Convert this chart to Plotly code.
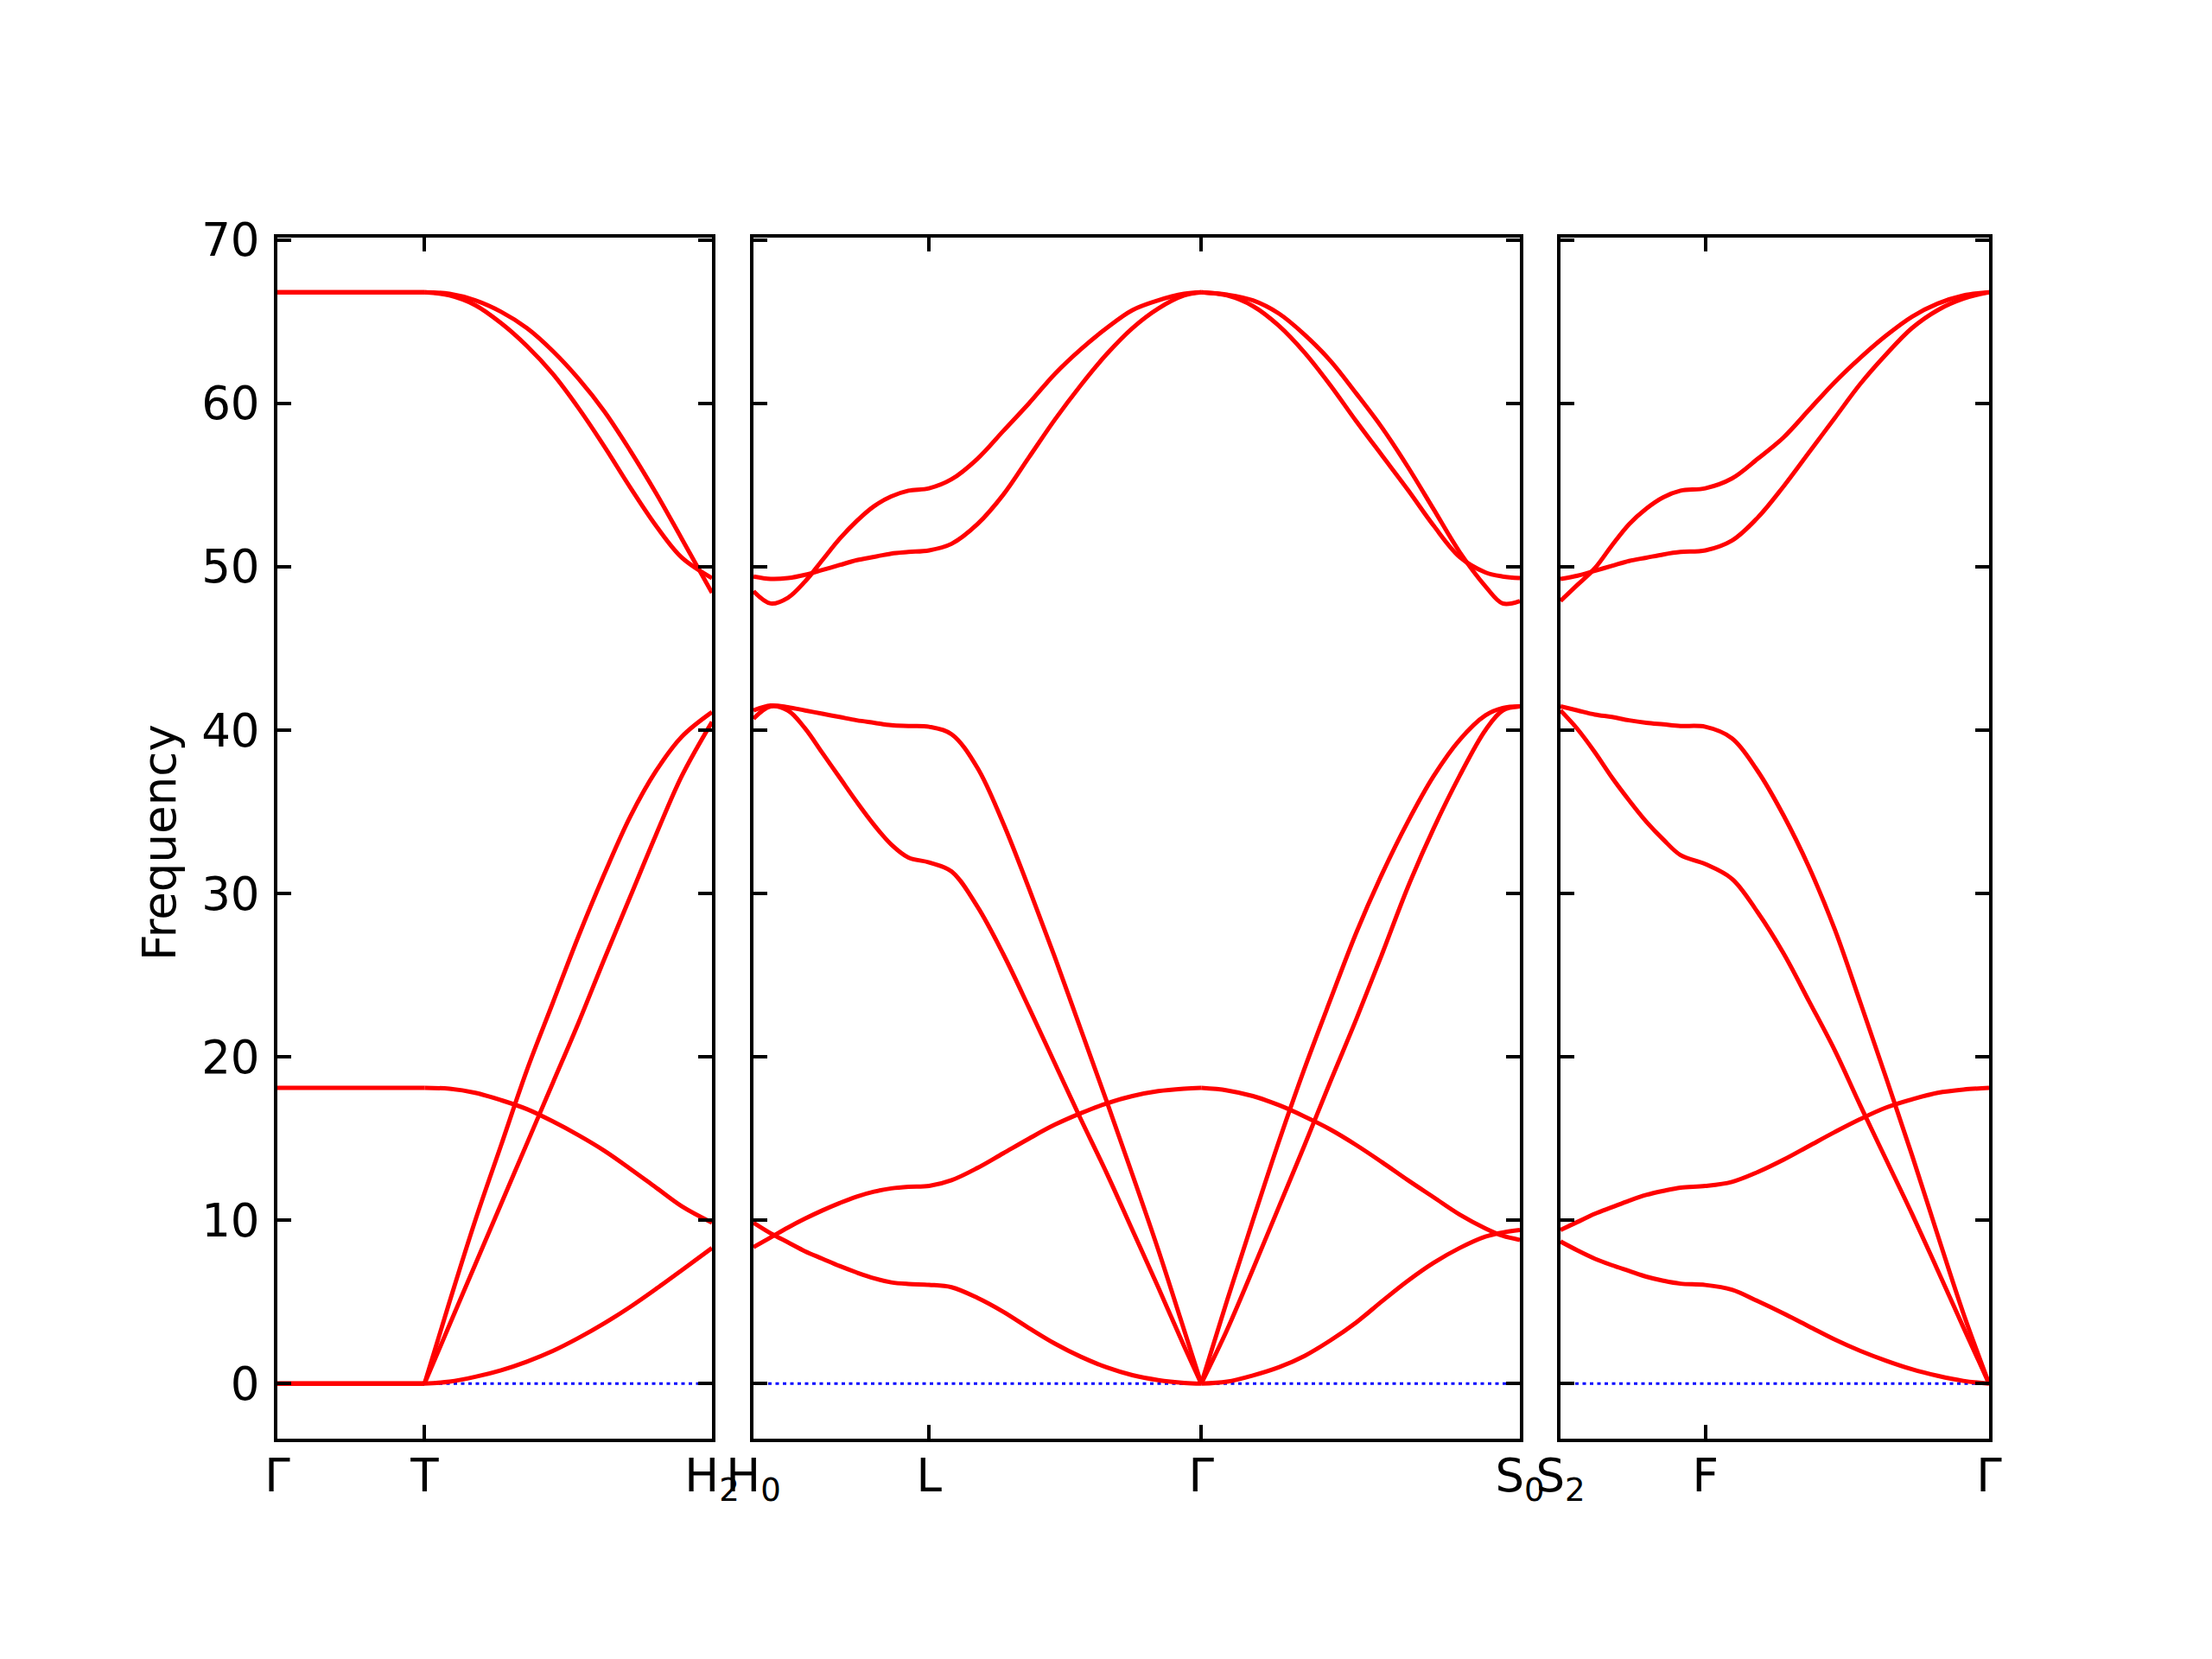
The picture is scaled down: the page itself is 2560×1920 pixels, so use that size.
import plotly.graph_objects as go

# ---------------- Panel 1 : Γ – T – H2 ----------------
P1_TICKS = [0, 171, 505]
P1_LABELS = ["Γ", "T", "H<sub>2</sub>"]

X_G_T = [0, 171]
G_T_BANDS = [[66.8, 66.8], [66.8, 66.8], [18.1, 18.1], [0.0, 0.0], [0.0, 0.0], [0.0, 0.0]]

X_T_H2 = [171, 200, 230, 260, 290, 320, 350, 380, 410, 440, 470, 505]
T_H2_OPT_OUTER = [66.8, 66.7, 66.3, 65.6, 64.6, 63.2, 61.5, 59.5, 57.1, 54.5, 51.7, 48.4]
T_H2_OPT_INNER = [66.8, 66.6, 66.0, 64.9, 63.5, 61.8, 59.7, 57.35, 54.85, 52.5, 50.55, 49.3]
T_H2_MID_A = [0.0, 5.0, 10.0, 14.6, 19.2, 23.3, 27.4, 31.2, 34.7, 37.5, 39.6, 41.1]
T_H2_MID_B = [0.0, 3.6, 7.3, 11.0, 14.7, 18.4, 22.1, 26.0, 29.8, 33.6, 37.2, 40.5]
T_H2_LOW_A = [18.1, 18.05, 17.8, 17.35, 16.8, 16.05, 15.2, 14.25, 13.15, 12.0, 10.85, 9.85]
T_H2_LOW_B = [0.0, 0.12, 0.42, 0.82, 1.35, 2.0, 2.8, 3.7, 4.7, 5.8, 6.95, 8.3]

# ---------------- Panel 2 : H0 – L – Γ – S0 ----------------
P2_TICKS = [0, 204, 520, 890]
P2_LABELS = ["H<sub>0</sub>", "L", "Γ", "S<sub>0</sub>"]

X_H0_L = [0, 20, 40, 60, 80, 100, 120, 140, 160, 180, 204]
H0_L_P = [48.5, 47.75, 48.1, 49.1, 50.4, 51.7, 52.8, 53.7, 54.3, 54.65, 54.8]
H0_L_Q = [49.4, 49.25, 49.3, 49.5, 49.8, 50.1, 50.4, 50.6, 50.8, 50.9, 51.0]
H0_L_R = [40.7, 41.45, 41.2, 40.1, 38.6, 37.1, 35.6, 34.2, 33.0, 32.2, 31.9]
H0_L_S = [41.2, 41.5, 41.4, 41.2, 41.0, 40.8, 40.6, 40.45, 40.3, 40.25, 40.2]
H0_L_U = [8.35, 8.95, 9.55, 10.1, 10.6, 11.05, 11.45, 11.75, 11.95, 12.05, 12.1]
H0_L_V = [9.85, 9.2, 8.65, 8.1, 7.65, 7.2, 6.8, 6.45, 6.2, 6.1, 6.05]

X_L_G = [204, 230, 260, 290, 320, 350, 380, 410, 440, 470, 500, 520]
L_G_P = [54.8, 55.35, 56.6, 58.3, 60.0, 61.8, 63.3, 64.6, 65.7, 66.3, 66.7, 66.8]
L_G_Q = [51.0, 51.4, 52.6, 54.4, 56.7, 59.0, 61.1, 63.0, 64.6, 65.8, 66.6, 66.8]
L_G_R = [31.9, 31.35, 29.2, 26.3, 23.0, 19.6, 16.2, 12.9, 9.4, 5.9, 2.3, 0.0]
L_G_S = [40.2, 39.75, 37.7, 34.3, 30.3, 26.1, 21.7, 17.3, 12.8, 8.2, 3.3, 0.0]
L_G_U = [12.1, 12.45, 13.2, 14.1, 15.0, 15.85, 16.55, 17.15, 17.6, 17.9, 18.05, 18.1]
L_G_V = [6.05, 5.9, 5.25, 4.4, 3.4, 2.45, 1.65, 1.0, 0.52, 0.22, 0.05, 0.0]

X_G_S0 = [520, 550, 580, 610, 640, 670, 700, 730, 760, 790, 820, 850, 870, 890]
G_S0_OUT = [66.8, 66.65, 66.3, 65.5, 64.2, 62.6, 60.6, 58.5, 56.1, 53.5, 50.9, 48.8, 47.75, 47.9]
G_S0_IN = [66.8, 66.6, 65.95, 64.75, 63.1, 61.1, 58.9, 56.8, 54.7, 52.5, 50.6, 49.65, 49.4, 49.3]
G_S0_T1 = [0.0, 5.1, 10.0, 14.8, 19.3, 23.5, 27.6, 31.2, 34.4, 37.2, 39.4, 40.9, 41.35, 41.45]
G_S0_T2 = [0.0, 3.3, 7.0, 10.8, 14.6, 18.5, 22.3, 26.3, 30.4, 34.0, 37.2, 40.0, 41.2, 41.45]
G_S0_U = [18.1, 17.95, 17.6, 17.05, 16.35, 15.55, 14.6, 13.55, 12.45, 11.4, 10.35, 9.5, 9.05, 8.8]
G_S0_V = [0.0, 0.12, 0.5, 1.0, 1.7, 2.65, 3.75, 5.05, 6.3, 7.4, 8.3, 9.0, 9.25, 9.4]

# ---------------- Panel 3 : S2 – F – Γ ----------------
P3_TICKS = [0, 169, 500]
P3_LABELS = ["S<sub>2</sub>", "F", "Γ"]

X_S2_F = [0, 20, 40, 60, 80, 100, 120, 140, 169]
S2_F_P = [47.9, 48.9, 49.9, 51.3, 52.6, 53.55, 54.25, 54.65, 54.8]
S2_F_Q = [49.25, 49.45, 49.75, 50.05, 50.35, 50.55, 50.75, 50.9, 51.0]
S2_F_M1 = [41.45, 41.2, 40.95, 40.8, 40.6, 40.45, 40.35, 40.25, 40.2]
S2_F_M2 = [41.2, 40.05, 38.65, 37.1, 35.7, 34.4, 33.3, 32.35, 31.8]
S2_F_L1 = [9.4, 9.9, 10.4, 10.8, 11.2, 11.55, 11.8, 12.0, 12.1]
S2_F_L2 = [8.7, 8.15, 7.65, 7.25, 6.9, 6.55, 6.3, 6.12, 6.04]

X_F_G = [169, 200, 230, 260, 290, 320, 350, 380, 410, 440, 470, 500]
F_G_P = [54.8, 55.4, 56.6, 57.9, 59.6, 61.3, 62.8, 64.15, 65.3, 66.1, 66.6, 66.8]
F_G_Q = [51.0, 51.6, 53.0, 54.9, 57.0, 59.1, 61.2, 63.0, 64.6, 65.7, 66.4, 66.8]
F_G_M1 = [40.2, 39.5, 37.5, 34.8, 31.6, 27.8, 23.3, 18.7, 14.0, 9.1, 4.3, 0.0]
F_G_M2 = [31.8, 30.9, 28.85, 26.35, 23.4, 20.4, 17.0, 13.7, 10.4, 6.95, 3.45, 0.0]
F_G_L1 = [12.1, 12.35, 12.95, 13.7, 14.55, 15.4, 16.2, 16.9, 17.4, 17.8, 18.0, 18.1]
F_G_L2 = [6.04, 5.75, 5.05, 4.3, 3.5, 2.7, 2.0, 1.4, 0.88, 0.48, 0.17, 0.0]

Y_RANGE = [-3.34, 70.14]
Y_LABEL = "Frequency"


def chain(xa, ya_list, xb, yb_list):
    """Join two consecutive path segments through their shared (smooth) k-point."""
    return [(xa + xb[1:], a + b[1:]) for a, b in zip(ya_list, yb_list)]


fig = go.Figure()

PANELS = [
    ("x", "y", P1_TICKS,
     [(X_G_T, b) for b in G_T_BANDS] +
     [(X_T_H2, b) for b in [T_H2_OPT_OUTER, T_H2_OPT_INNER, T_H2_MID_A,
                            T_H2_MID_B, T_H2_LOW_A, T_H2_LOW_B]]),
    ("x2", "y2", P2_TICKS,
     chain(X_H0_L, [H0_L_P, H0_L_Q, H0_L_R, H0_L_S, H0_L_U, H0_L_V],
           X_L_G, [L_G_P, L_G_Q, L_G_R, L_G_S, L_G_U, L_G_V]) +
     [(X_G_S0, b) for b in [G_S0_OUT, G_S0_IN, G_S0_T1, G_S0_T2, G_S0_U, G_S0_V]]),
    ("x3", "y3", P3_TICKS,
     chain(X_S2_F, [S2_F_P, S2_F_Q, S2_F_M1, S2_F_M2, S2_F_L1, S2_F_L2],
           X_F_G, [F_G_P, F_G_Q, F_G_M1, F_G_M2, F_G_L1, F_G_L2])),
]

# zero reference (blue dotted) first, below the bands
for xa, ya, ticks, curves in PANELS:
    fig.add_trace(go.Scatter(x=[ticks[0], ticks[-1]], y=[0, 0], xaxis=xa, yaxis=ya,
                             mode="lines", line=dict(color="#0000ff", width=3, dash="4px,4.5px"),
                             hoverinfo="skip", showlegend=False))

for xa, ya, ticks, curves in PANELS:
    for xs, ys in curves:
        fig.add_trace(go.Scatter(x=xs, y=ys, xaxis=xa, yaxis=ya, mode="lines",
                                 line=dict(color="#ff0000", width=5, shape="spline", smoothing=1.0),
                                 hoverinfo="skip", showlegend=False))

FONT = dict(family="DejaVu Sans", size=53, color="black")
common = dict(showline=True, linecolor="black", linewidth=3.6, mirror="allticks",
              ticks="inside", ticklen=16, tickwidth=3.6, tickcolor="black",
              showgrid=False, zeroline=False, tickfont=FONT, automargin=False)

W, H, OFF = 2560, 1920, 8  # page body offset compensation


def xd(a, b):
    return [(a - OFF) / W, (b - OFF) / W]


YDOM = [1 - (1664.5 - OFF) / H, 1 - (275 - OFF) / H]

fig.update_layout(
    width=W, height=H,
    margin=dict(l=0, r=0, t=0, b=0, pad=0, autoexpand=False),
    paper_bgcolor="white", plot_bgcolor="white",
    showlegend=False,
    xaxis=dict(domain=xd(321, 824), range=[0, 505], anchor="y",
               tickmode="array", tickvals=P1_TICKS, ticktext=P1_LABELS, ticklabelstandoff=-6, **common),
    xaxis2=dict(domain=xd(872, 1759), range=[0, 890], anchor="y2",
                tickmode="array", tickvals=P2_TICKS, ticktext=P2_LABELS, ticklabelstandoff=-6, **common),
    xaxis3=dict(domain=xd(1806, 2302), range=[0, 500], anchor="y3",
                tickmode="array", tickvals=P3_TICKS, ticktext=P3_LABELS, ticklabelstandoff=-6, **common),
    yaxis=dict(domain=YDOM, range=Y_RANGE, anchor="x", tick0=0, dtick=10,
               ticklabelstandoff=6, **common),
    yaxis2=dict(domain=YDOM, range=Y_RANGE, anchor="x2", tick0=0, dtick=10,
                showticklabels=False, **common),
    yaxis3=dict(domain=YDOM, range=Y_RANGE, anchor="x3", tick0=0, dtick=10,
                showticklabels=False, **common),
    annotations=[dict(text=Y_LABEL, x=(184 - OFF) / W, y=1 - (975 - OFF) / H, xref="paper", yref="paper",
                      textangle=-90, showarrow=False, font=FONT, xanchor="center", yanchor="middle")],
)

fig.write_html("out.html")
